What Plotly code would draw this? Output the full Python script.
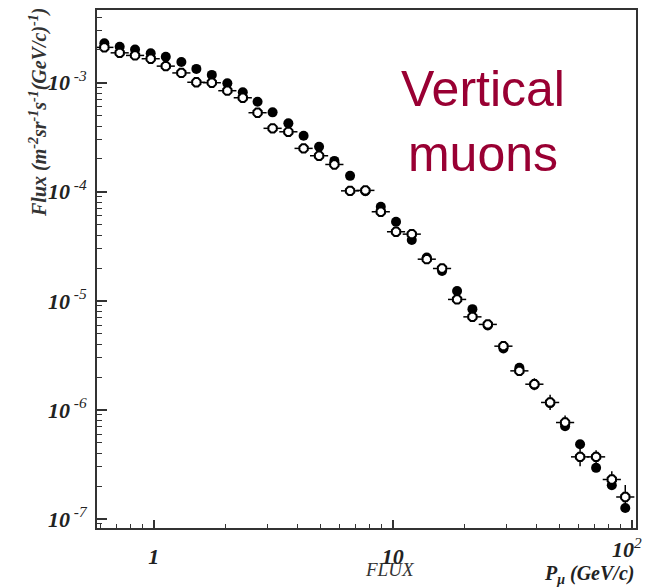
import plotly.graph_objects as go

# Momentum bin centres (GeV/c)
momentum = [0.622, 0.721, 0.836, 0.972, 1.124, 1.306, 1.509, 1.751, 2.034, 2.360,
            2.721, 3.145, 3.661, 4.240, 4.921, 5.703, 6.634, 7.688, 8.918, 10.33,
            12.02, 13.89, 16.09, 18.60, 21.56, 25.00, 29.06, 33.89, 39.16, 45.57,
            52.64, 60.82, 70.96, 82.56, 94.0]

# Flux, filled markers
flux_filled = [2.30e-3, 2.14e-3, 2.02e-3, 1.86e-3, 1.73e-3, 1.55e-3, 1.34e-3, 1.18e-3, 9.87e-4, 8.16e-4,
               6.69e-4, 5.35e-4, 4.24e-4, 3.27e-4, 2.59e-4, 1.92e-4, 1.40e-4, 1.01e-4, 7.28e-5, 5.31e-5,
               3.61e-5, 2.50e-5, 1.88e-5, 1.23e-5, 8.39e-6, 5.95e-6, 3.66e-6, 2.43e-6, 1.69e-6, 1.15e-6,
               7.08e-7, 4.84e-7, 2.94e-7, 2.04e-7, 1.26e-7]

# Flux, open markers
flux_open = [2.11e-3, 1.88e-3, 1.78e-3, 1.66e-3, 1.42e-3, 1.23e-3, 1.01e-3, 1.00e-3, 8.45e-4, 7.28e-4,
             5.31e-4, 3.82e-4, 3.55e-4, 2.50e-4, 2.14e-4, 1.78e-4, 1.02e-4, 1.03e-4, 6.56e-5, 4.30e-5,
             4.09e-5, 2.41e-5, 1.98e-5, 1.03e-5, 7.13e-6, 6.08e-6, 3.84e-6, 2.28e-6, 1.72e-6, 1.17e-6,
             7.66e-7, 3.71e-7, 3.71e-7, 2.30e-7, 1.59e-7]

# Vertical error (in decades) of open markers
open_err_dex = [0]*26 + [0.03, 0.04, 0.055, 0.07, 0.065, 0.085, 0.06, 0.075, 0.11]

x_tick_vals = [1, 10]
x_tick_text = ["<b><i>1</i></b>", "<b><i>10</i></b>"]
x_last_tick_val = 100
x_last_tick_text = "<b><i>10</i></b><sup><i>2</i></sup>"
y_tick_vals = [1e-7, 1e-6, 1e-5, 1e-4, 1e-3]
y_tick_text = ["<b><i>10</i></b><sup><i> -7</i></sup>", "<b><i>10</i></b><sup><i> -6</i></sup>",
               "<b><i>10</i></b><sup><i> -5</i></sup>", "<b><i>10</i></b><sup><i> -4</i></sup>",
               "<b><i>10</i></b><sup><i> -3</i></sup>"]

HALF_BIN = 10 ** 0.038
x_err_plus = [p * (HALF_BIN - 1) for p in momentum]
x_err_minus = [p * (1 - 1 / HALF_BIN) for p in momentum]
y_err_plus = [f * (10 ** d - 1) for f, d in zip(flux_open, open_err_dex)]
y_err_minus = [f * (1 - 10 ** (-d)) for f, d in zip(flux_open, open_err_dex)]

x_minor = [k * 10 ** e for e in (-1, 0, 1) for k in range(2, 10)]
y_minor = [k * 10 ** e for e in (-8, -7, -6, -5, -4, -3) for k in range(2, 10)]

fig = go.Figure()
fig.add_trace(go.Scatter(
    x=momentum, y=flux_filled, mode="markers",
    marker=dict(symbol="circle", size=10, color="black", line=dict(width=0)),
    showlegend=False))
fig.add_trace(go.Scatter(
    x=momentum, y=flux_open, mode="markers",
    marker=dict(symbol="octagon", size=9, color="white", line=dict(width=2, color="black")),
    error_x=dict(type="data", symmetric=False, array=x_err_plus, arrayminus=x_err_minus,
                 color="black", thickness=1.5, width=0),
    error_y=dict(type="data", symmetric=False, array=y_err_plus, arrayminus=y_err_minus,
                 color="black", thickness=1.5, width=0),
    showlegend=False))

# page body has an 8px default margin; size the figure so it fits the window
OFF = 8
W, H = 650 - OFF, 587 - OFF
# plot area in page pixels
PL, PR, PT, PB = 97, 636, 10, 528
L, R, T, B = PL - OFF, W - (PR - OFF), PT - OFF, H - (PB - OFF)

def px(xp):
    return (xp - PL) / (PR - PL)

def py(yp):
    return (PB - yp) / (PB - PT)

serif = "Liberation Serif, Times New Roman, serif"
tickfont = dict(family=serif, size=22, color="#222")

fig.update_layout(
    width=W, height=H,
    margin=dict(l=L, r=R, t=T, b=B, autoexpand=False),
    paper_bgcolor="white", plot_bgcolor="white",
    xaxis=dict(type="log", range=[-0.237, 2.018], showgrid=False, zeroline=False,
               showline=True, linecolor="#333", linewidth=2, mirror=True, automargin=False,
               ticks="inside", ticklen=8, tickwidth=1.5, tickcolor="#333",
               tickmode="array", tickvals=x_tick_vals + [x_last_tick_val],
               ticktext=x_tick_text + [""],
               tickfont=tickfont, ticklabelstandoff=8,
               minor=dict(ticks="inside", ticklen=4, tickwidth=1.2, tickcolor="#333",
                          tickmode="array", tickvals=x_minor, showgrid=False)),
    yaxis=dict(type="log", range=[-7.083, -2.333], showgrid=False, zeroline=False,
               showline=True, linecolor="#333", linewidth=2, mirror=True, automargin=False,
               ticks="inside", ticklen=10, tickwidth=1.5, tickcolor="#333",
               tickmode="array", tickvals=y_tick_vals, ticktext=y_tick_text,
               tickfont=tickfont, ticklabelstandoff=4,
               minor=dict(ticks="inside", ticklen=5, tickwidth=1.2, tickcolor="#333",
                          tickmode="array", tickvals=y_minor, showgrid=False)),
    annotations=[
        dict(text=x_last_tick_text, x=2, y=0, xref="x", yref="paper", yshift=-20,
             xanchor="right", yanchor="middle", xshift=12, showarrow=False,
             font=tickfont),
        dict(text="Vertical<br>muons", x=px(483), y=py(121), xref="paper", yref="paper",
             xanchor="center", yanchor="middle", showarrow=False, align="center",
             font=dict(family="Arial, Liberation Sans, sans-serif", size=50, color="#990033")),
        dict(text="<i>FLUX</i>", x=px(390), y=py(569), xref="paper", yref="paper",
             xanchor="center", yanchor="middle", showarrow=False,
             font=dict(family=serif, size=19, color="#333")),
        dict(text="<b><i>P<sub>μ</sub> (GeV/c)</i></b>", x=px(636), y=py(574), xref="paper", yref="paper",
             xanchor="right", yanchor="middle", showarrow=False,
             font=dict(family=serif, size=20, color="#222")),
        dict(text="<b><i>Flux (m<sup>-2</sup>sr<sup>-1</sup>s<sup>-1</sup>(GeV/c)<sup>-1</sup>)</i></b>",
             x=px(38), y=py(113), xref="paper", yref="paper", textangle=-90,
             xanchor="center", yanchor="middle", showarrow=False,
             font=dict(family=serif, size=20, color="#333")),
    ],
)

fig.write_html("out.html")
